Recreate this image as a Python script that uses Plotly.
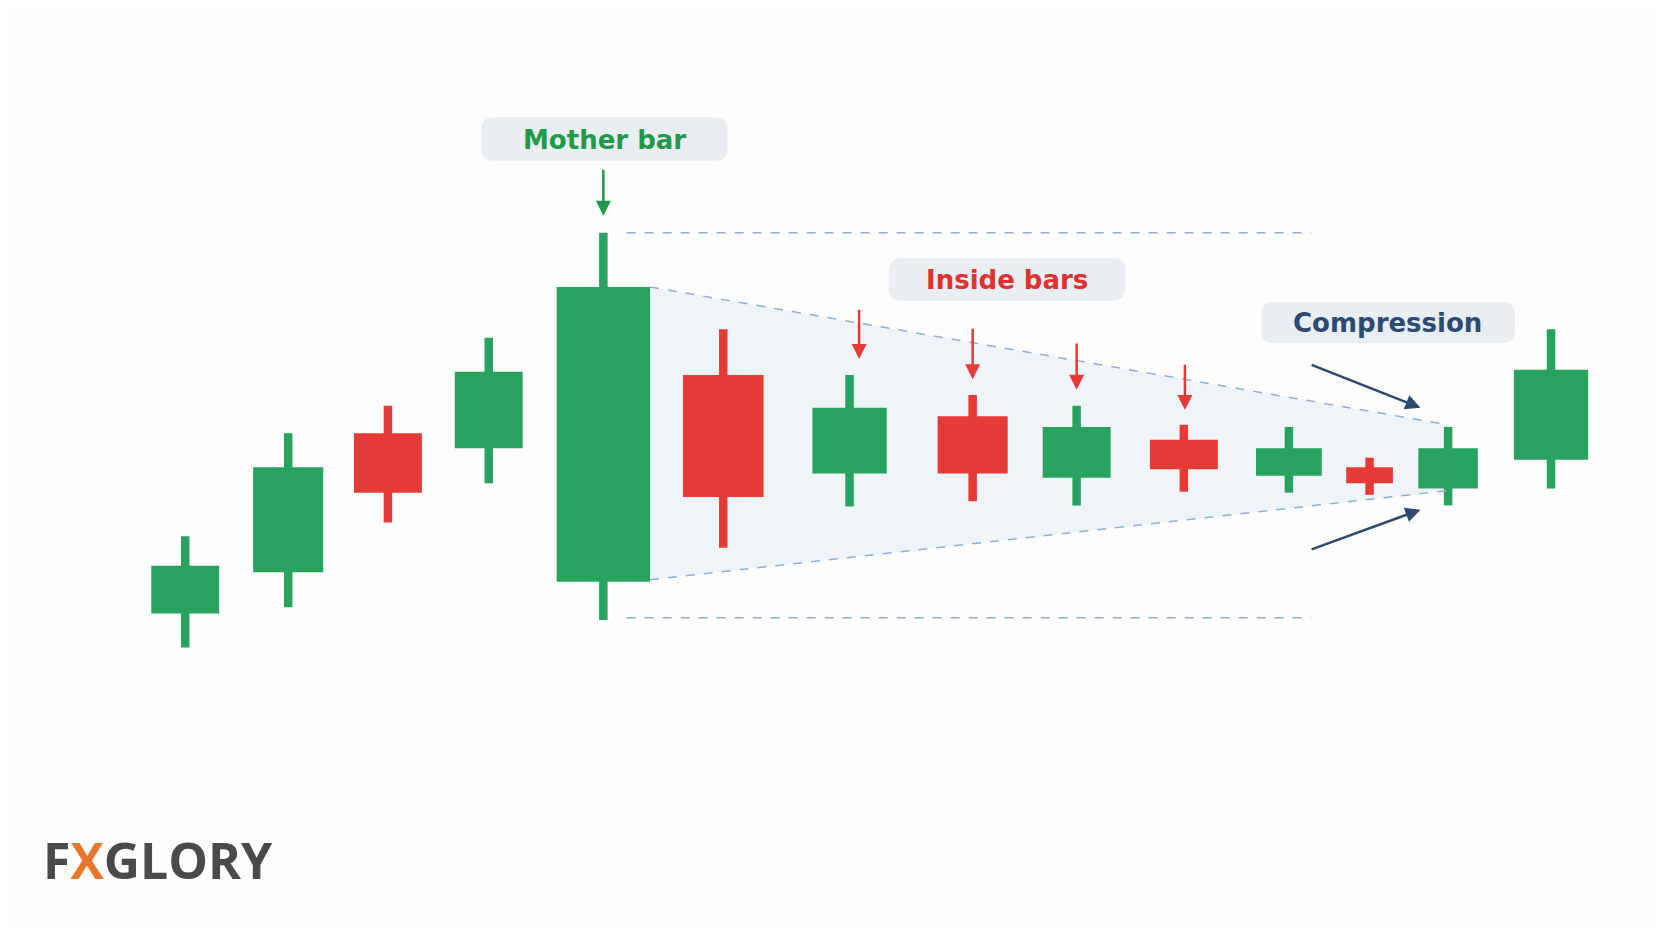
import plotly.graph_objects as go

# candle data (price axis is inverted: smaller = higher on screen)
x_pos   = [174, 271, 365, 460, 568, 681, 800, 916, 1014, 1115, 1214, 1290, 1364, 1461]
widths  = [64, 66, 64, 64, 88, 76, 70, 66, 64, 64, 62, 44, 56, 70]
highs   = [505, 408, 382, 318, 219, 310, 353, 372, 382, 400, 402, 431, 402, 310]
lows    = [610, 572, 492, 455, 584, 516, 477, 472, 476, 463, 464, 466, 476, 460]
opens   = [578, 539, 408, 422, 548, 353, 446, 392, 450, 414, 448, 440, 460, 433]
closes  = [533, 440, 464, 350, 270, 468, 384, 446, 402, 442, 422, 455, 422, 348]

GREEN = "#27a35f"
RED = "#e63a37"
colors = [GREEN if c < o else RED for o, c in zip(opens, closes)]

fig = go.Figure()
fig.add_trace(go.Bar(x=x_pos, base=highs, y=[l - h for h, l in zip(highs, lows)],
                     width=[8] * len(x_pos), marker=dict(color=colors, line=dict(width=0)),
                     hoverinfo="skip"))
fig.add_trace(go.Bar(x=x_pos, base=[min(o, c) for o, c in zip(opens, closes)],
                     y=[abs(o - c) for o, c in zip(opens, closes)],
                     width=widths, marker=dict(color=colors, line=dict(width=0)),
                     hoverinfo="skip"))

shapes = []
shapes.append(dict(type="path", path="M 612,270 L 1364,400 L 1364,462 L 612,546 Z",
                   fillcolor="rgba(200,220,240,0.25)", line=dict(width=0), layer="below"))
for (x0, y0, x1, y1) in [(612, 270, 1364, 400), (612, 546, 1364, 462)]:
    shapes.append(dict(type="line", x0=x0, y0=y0, x1=x1, y1=y1,
                       line=dict(color="#8fb0d4", width=1.5, dash="dash")))
for y in [219, 582]:
    shapes.append(dict(type="line", x0=590, x1=1235, y0=y, y1=y,
                       line=dict(color="#8fb0d4", width=1.5, dash="dash")))

def rbox(x0, y0, x1, y1, r=12):
    return (f"M {x0+r},{y0} L {x1-r},{y0} Q {x1},{y0} {x1},{y0+r} L {x1},{y1-r} "
            f"Q {x1},{y1} {x1-r},{y1} L {x0+r},{y1} Q {x0},{y1} {x0},{y1-r} "
            f"L {x0},{y0+r} Q {x0},{y0} {x0+r},{y0} Z")

labels = [("Mother bar", 569, 131, 453, 110, 685, 151, "#1e9a4a"),
          ("Inside bars", 948, 263, 837, 243, 1060, 283, "#e0312f"),
          ("Compression", 1307, 304, 1188, 284, 1427, 323, "#2c4a72")]
annotations = []
for t, cx, cy, x0, y0, x1, y1, col in labels:
    shapes.append(dict(type="path", path=rbox(x0, y0, x1, y1), fillcolor="#e9eef3",
                       line=dict(width=0), layer="below"))
    annotations.append(dict(x=cx, y=cy, text=f"<b>{t}</b>", showarrow=False,
                            font=dict(size=26, color=col, family="DejaVu Sans")))

arrows = [(568, 158, 568, 203, "#1e9a4a"),
          (809, 290, 809, 338, RED), (916, 308, 916, 357, RED),
          (1014, 322, 1014, 367, RED), (1116, 342, 1116, 386, RED),
          (1234, 343, 1338, 384, "#2c4a72"), (1234, 518, 1338, 480, "#2c4a72")]
for x0, y0, x1, y1, col in arrows:
    annotations.append(dict(x=x1, y=y1, ax=x0, ay=y0, xref="x", yref="y", axref="x", ayref="y",
                            showarrow=True, arrowhead=2, arrowsize=1.2, arrowwidth=2.5,
                            arrowcolor=col, text=""))

annotations.append(dict(x=38, y=810, xanchor="left", text="<b>F<span style='color:#e8772e'>X</span>GLORY</b>",
                        showarrow=False, font=dict(size=50, color="#4a4a4a", family="Open Sans")))

fig.update_layout(width=1664, height=928, margin=dict(l=0, r=0, t=0, b=0),
                  paper_bgcolor="#fdfdfd", plot_bgcolor="#fdfdfd", showlegend=False,
                  barmode="overlay", shapes=shapes, annotations=annotations,
                  xaxis=dict(range=[7, 1575], visible=False, fixedrange=True),
                  yaxis=dict(range=[882, 7], visible=False, fixedrange=True),
                  hovermode=False)
fig.write_html("out.html")
